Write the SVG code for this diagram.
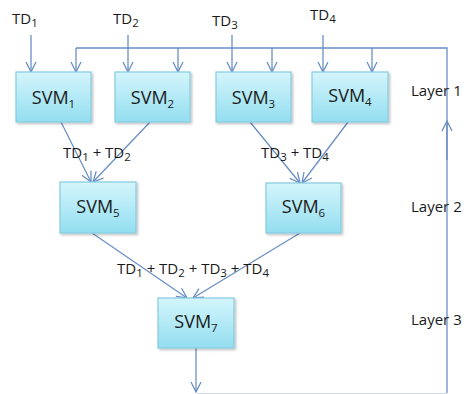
<svg xmlns="http://www.w3.org/2000/svg" width="465" height="394" viewBox="0 0 465 394">
<style>
.box{fill:url(#g);stroke:#86cbe0;stroke-width:1.2}
.c{stroke:#6a8fc4;stroke-width:1.3;fill:none}
.arr{marker-end:url(#a)}
.t{font-family:"Open Sans","Liberation Sans",sans-serif;fill:#1a1a1a}
.n{font-size:18px;text-anchor:middle}
.l{font-size:15px}
.s{font-size:11.5px}
</style>
<defs>
<linearGradient id="g" x1="0" y1="0" x2="0" y2="1">
<stop offset="0" stop-color="#d4f5fc"/>
<stop offset="1" stop-color="#93def0"/>
</linearGradient>
<filter id="sh" x="-10%" y="-10%" width="130%" height="130%">
<feDropShadow dx="1.5" dy="1.5" stdDeviation="1.2" flood-color="#000" flood-opacity="0.25"/>
</filter>
<marker id="a" viewBox="0 0 12 12" refX="11" refY="6" markerWidth="12" markerHeight="12" markerUnits="userSpaceOnUse" orient="auto">
<path d="M1,1 L11,6 L1,11" fill="none" stroke="#6a8fc4" stroke-width="1.3"/>
</marker>
</defs>
<g id="connectors">
<line class="c arr" x1="31" y1="35" x2="31" y2="72"/>
<line class="c arr" x1="128" y1="35" x2="128" y2="72"/>
<line class="c arr" x1="232" y1="35" x2="232" y2="72"/>
<line class="c arr" x1="323" y1="35" x2="323" y2="72"/>
<polyline class="c" points="447,393 447,48 76,48"/>
<line class="c arr" x1="447" y1="160" x2="447" y2="121"/>
<line class="c arr" x1="76" y1="48" x2="76" y2="72"/>
<line class="c arr" x1="178" y1="48" x2="178" y2="72"/>
<line class="c arr" x1="272" y1="48" x2="272" y2="72"/>
<line class="c arr" x1="372" y1="48" x2="372" y2="72"/>
<line class="c arr" x1="61" y1="122" x2="91" y2="182"/>
<line class="c arr" x1="150" y1="122" x2="93" y2="182"/>
<line class="c arr" x1="250" y1="122" x2="300" y2="183"/>
<line class="c arr" x1="348" y1="122" x2="302" y2="183"/>
<line class="c arr" x1="92" y1="233" x2="187" y2="298"/>
<line class="c arr" x1="300" y1="233" x2="193" y2="298"/>
<line class="c arr" x1="196" y1="348" x2="196" y2="392"/>
<line x1="197" y1="393.5" x2="447" y2="393.5" stroke="#d0d8e4" stroke-width="1"/>
</g>
<g id="inputs">
<text class="t l" x="12" y="24">TD<tspan class="s" dy="3">1</tspan></text>
<text class="t l" x="113" y="24">TD<tspan class="s" dy="3">2</tspan></text>
<text class="t l" x="212" y="26">TD<tspan class="s" dy="3">3</tspan></text>
<text class="t l" x="310" y="20">TD<tspan class="s" dy="3">4</tspan></text>
</g>
<g id="svm1"><rect class="box" filter="url(#sh)" x="16" y="72" width="75" height="50"/><text class="t n" x="53.5" y="104">SVM<tspan class="s" dy="4">1</tspan></text></g>
<g id="svm2"><rect class="box" filter="url(#sh)" x="115" y="72" width="75" height="50"/><text class="t n" x="152.5" y="104">SVM<tspan class="s" dy="4">2</tspan></text></g>
<g id="svm3"><rect class="box" filter="url(#sh)" x="216" y="72" width="75" height="50"/><text class="t n" x="253.5" y="104">SVM<tspan class="s" dy="4">3</tspan></text></g>
<g id="svm4"><rect class="box" filter="url(#sh)" x="312" y="72" width="76" height="50"/><text class="t n" x="350" y="102">SVM<tspan class="s" dy="4">4</tspan></text></g>
<g id="svm5"><rect class="box" filter="url(#sh)" x="60" y="182" width="76" height="51"/><text class="t n" x="98" y="213">SVM<tspan class="s" dy="4">5</tspan></text></g>
<g id="svm6"><rect class="box" filter="url(#sh)" x="266" y="183" width="75" height="50"/><text class="t n" x="303.5" y="213">SVM<tspan class="s" dy="4">6</tspan></text></g>
<g id="svm7"><rect class="box" filter="url(#sh)" x="158" y="298" width="76" height="50"/><text class="t n" x="196" y="328">SVM<tspan class="s" dy="4">7</tspan></text></g>
<g id="labels">
<text class="t l" x="63" y="158">TD<tspan class="s" dy="3">1</tspan><tspan dy="-3"> + TD</tspan><tspan class="s" dy="3">2</tspan></text>
<text class="t l" x="261" y="158">TD<tspan class="s" dy="3">3</tspan><tspan dy="-3"> + TD</tspan><tspan class="s" dy="3">4</tspan></text>
<text class="t l" x="117" y="274">TD<tspan class="s" dy="3">1</tspan><tspan dy="-3"> + TD</tspan><tspan class="s" dy="3">2</tspan><tspan dy="-3"> + TD</tspan><tspan class="s" dy="3">3</tspan><tspan dy="-3"> + TD</tspan><tspan class="s" dy="3">4</tspan></text>
<text class="t l" x="411" y="96">Layer 1</text>
<text class="t l" x="411" y="212">Layer 2</text>
<text class="t l" x="411" y="325">Layer 3</text>
</g>
</svg>
